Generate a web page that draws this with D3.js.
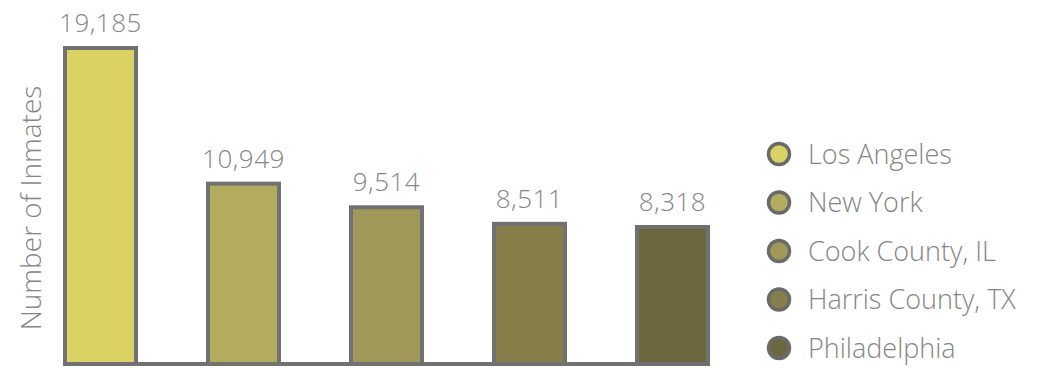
<!DOCTYPE html>
<html>
<head>
<meta charset="utf-8">
<script src="https://cdn.jsdelivr.net/npm/d3@7"></script>
<style>
  body { margin: 0; background: #fff; }
  text { font-family: "Open Sans", "Liberation Sans", sans-serif; font-weight: 300; fill: #868686; }
</style>
</head>
<body>
<div id="chart"></div>
<script>
// data
var cities = ["Los Angeles", "New York", "Cook County, IL", "Harris County, TX", "Philadelphia"];
var inmates = [19185, 10949, 9514, 8511, 8318];
var colors = ["#dad262", "#b3ab5e", "#a09859", "#867f4c", "#6d673f"];

var width = 1041, height = 368;

var svg = d3.select("#chart")
    .append("svg")
    .attr("width", width)
    .attr("height", height);

// scales
var x = d3.scaleBand()
    .domain(cities)
    .range([65, 708])
    .paddingInner(0.5035)
    .paddingOuter(0);

var y = d3.scaleLinear()
    .domain([0, 19185])
    .range([364, 48]);

// bars
svg.selectAll("rect.bar")
    .data(cities)
    .enter()
    .append("rect")
    .attr("class", "bar")
    .attr("x", function (d) { return x(d); })
    .attr("y", function (d, i) { return y(inmates[i]); })
    .attr("width", x.bandwidth())
    .attr("height", function (d, i) { return y(0) - y(inmates[i]); })
    .attr("fill", function (d, i) { return colors[i]; })
    .attr("stroke", "#717171")
    .attr("stroke-width", 4);

// baseline
svg.append("line")
    .attr("x1", 63)
    .attr("x2", 710)
    .attr("y1", y(0))
    .attr("y2", y(0))
    .attr("stroke", "#717171")
    .attr("stroke-width", 4);

// value labels
svg.selectAll("text.val")
    .data(cities)
    .enter()
    .append("text")
    .attr("class", "val")
    .attr("x", function (d) { return x(d) + x.bandwidth() / 2; })
    .attr("y", function (d, i) { return y(inmates[i]) - 16; })
    .attr("text-anchor", "middle")
    .style("font-size", "26px")
    .style("letter-spacing", "0.5px")
    .text(function (d, i) { return d3.format(",")(inmates[i]); });

// y label
svg.append("text")
    .attr("transform", "translate(41,208) rotate(-90)")
    .attr("text-anchor", "middle")
    .style("font-size", "28px")
    .text("Number of Inmates");

// legend
var legend = svg.selectAll("g.legend")
    .data(cities)
    .enter()
    .append("g")
    .attr("class", "legend")
    .attr("transform", function (d, i) { return "translate(779," + (154 + i * 48.5) + ")"; });

legend.append("circle")
    .attr("r", 10.5)
    .attr("fill", function (d, i) { return colors[i]; })
    .attr("stroke", "#6a6a6a")
    .attr("stroke-width", 3.5);

legend.append("text")
    .attr("x", 29)
    .attr("dy", "0.36em")
    .style("font-size", "27px")
    .text(function (d) { return d; });
</script>
</body>
</html>
